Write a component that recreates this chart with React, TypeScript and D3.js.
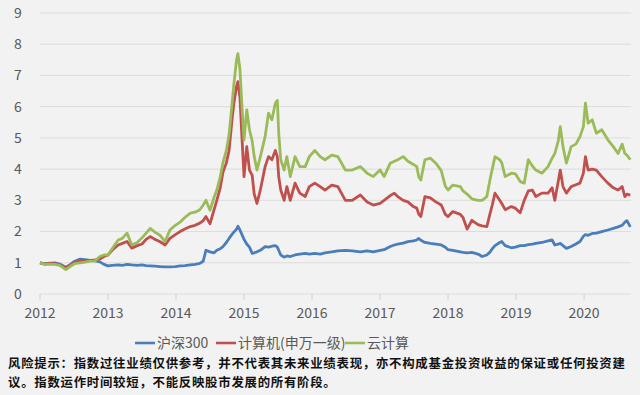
import React from "react";
import * as d3 from "d3";

// Time as fractional year
const years = [
  2012.0, 2012.07, 2012.15, 2012.22, 2012.29, 2012.38, 2012.44, 2012.51, 2012.59, 2012.66,
  2012.74, 2012.81, 2012.88, 2012.94, 2013.0, 2013.06, 2013.15, 2013.21, 2013.28, 2013.35,
  2013.43, 2013.5, 2013.56, 2013.62, 2013.69, 2013.76, 2013.84, 2013.91, 2013.99, 2014.06,
  2014.13, 2014.21, 2014.28, 2014.35, 2014.4, 2014.44, 2014.5, 2014.56, 2014.6, 2014.65,
  2014.69, 2014.74, 2014.78, 2014.82, 2014.85, 2014.89, 2014.91, 2014.94, 2014.97, 2015.0,
  2015.04, 2015.08, 2015.12, 2015.15, 2015.19, 2015.24, 2015.31, 2015.36, 2015.41, 2015.46,
  2015.49, 2015.51, 2015.54, 2015.59, 2015.63, 2015.68, 2015.75, 2015.82, 2015.9, 2015.96,
  2016.04, 2016.12, 2016.19, 2016.29, 2016.38, 2016.49, 2016.59, 2016.71, 2016.81, 2016.9,
  2017.0, 2017.06, 2017.15, 2017.21, 2017.26, 2017.34, 2017.41, 2017.49, 2017.54, 2017.57,
  2017.6, 2017.66, 2017.74, 2017.82, 2017.9, 2017.96, 2018.0, 2018.07, 2018.18, 2018.22,
  2018.28, 2018.35, 2018.44, 2018.5, 2018.57, 2018.62, 2018.65, 2018.69, 2018.76, 2018.79,
  2018.84, 2018.93, 2018.99, 2019.06, 2019.12, 2019.18, 2019.24, 2019.29, 2019.38, 2019.47,
  2019.53, 2019.57, 2019.62, 2019.65, 2019.69, 2019.74, 2019.81, 2019.88, 2019.94, 2019.99,
  2020.02, 2020.06, 2020.12, 2020.18, 2020.26, 2020.35, 2020.43, 2020.5, 2020.56, 2020.6,
  2020.63, 2020.68,
];

const hs300 = [
  1.0, 0.97, 0.99, 1.0, 0.96, 0.86, 0.93, 1.05, 1.12, 1.1,
  1.08, 1.06, 1.03, 0.95, 0.9, 0.92, 0.93, 0.92, 0.95, 0.93,
  0.92, 0.93, 0.91, 0.9, 0.89, 0.88, 0.87, 0.87, 0.88, 0.9,
  0.91, 0.93, 0.95, 0.98, 1.05, 1.4, 1.35, 1.32, 1.4, 1.45,
  1.52, 1.65, 1.78, 1.9, 1.98, 2.08, 2.17, 2.05, 1.9, 1.75,
  1.6, 1.5, 1.3, 1.32, 1.35, 1.4, 1.52, 1.5, 1.53, 1.55,
  1.5, 1.4, 1.25, 1.18, 1.22, 1.2, 1.25, 1.28, 1.3, 1.28,
  1.3, 1.28, 1.32, 1.35, 1.38, 1.4, 1.38, 1.35, 1.38, 1.35,
  1.4, 1.42, 1.52, 1.57, 1.6, 1.63, 1.68, 1.7, 1.73, 1.78,
  1.72, 1.65, 1.62, 1.6, 1.57, 1.5, 1.42, 1.4, 1.35, 1.33,
  1.32, 1.33, 1.28, 1.2, 1.25, 1.35, 1.45, 1.55, 1.65, 1.68,
  1.55, 1.48, 1.5, 1.55, 1.55, 1.58, 1.6, 1.62, 1.65, 1.7,
  1.73, 1.57, 1.6, 1.62, 1.55, 1.46, 1.52, 1.6, 1.68, 1.85,
  1.9, 1.88, 1.94, 1.95, 2.0, 2.05, 2.1, 2.15, 2.2, 2.3,
  2.35, 2.15,
];

const computer = [
  1.0, 0.96, 0.98, 0.97, 0.93, 0.84, 0.92, 1.0, 1.08, 1.07,
  1.08, 1.09, 1.12, 1.2, 1.25, 1.4, 1.57, 1.62, 1.68, 1.47,
  1.55, 1.6, 1.75, 1.84, 1.75, 1.68, 1.57, 1.78, 1.9, 2.0,
  2.08, 2.16, 2.2, 2.27, 2.35, 2.48, 2.25, 2.7, 3.0, 3.4,
  3.9, 4.2, 4.6, 5.5, 6.1, 6.65, 6.8, 6.3, 5.0, 3.76,
  4.72, 3.97, 3.8, 3.2, 2.9, 3.33, 4.08, 4.4, 4.3, 4.6,
  4.4, 3.76, 3.33, 3.0, 3.44, 3.0, 3.55, 3.23, 3.12, 3.44,
  3.55, 3.44, 3.33, 3.49, 3.44, 3.0, 3.0, 3.17, 2.95, 2.85,
  2.9, 3.0, 3.15, 3.23, 3.12, 3.0, 2.95, 2.8, 2.75, 2.55,
  2.48, 3.12, 3.08, 2.95, 2.85, 2.55, 2.48, 2.64, 2.55, 2.45,
  2.08, 2.36, 2.22, 2.18, 2.16, 2.6, 2.85, 3.23, 3.0, 2.9,
  2.7, 2.8, 2.75, 2.6, 3.0, 3.3, 3.33, 3.12, 3.23, 3.23,
  3.4, 3.0, 3.6, 3.97, 3.44, 3.23, 3.44, 3.5, 3.55, 3.87,
  4.4, 3.97, 4.0, 3.97, 3.76, 3.55, 3.4, 3.33, 3.44, 3.12,
  3.2, 3.17,
];

const cloud = [
  1.0, 0.95, 0.96, 0.95, 0.92, 0.78, 0.88, 0.97, 1.0, 1.02,
  1.05, 1.06, 1.2, 1.25, 1.25, 1.45, 1.73, 1.78, 1.95, 1.57,
  1.65, 1.8, 1.95, 2.1, 1.98, 1.89, 1.68, 2.05, 2.2, 2.3,
  2.45, 2.59, 2.62, 2.7, 2.85, 3.0, 2.68, 3.1, 3.33, 3.75,
  4.2, 4.6, 5.1, 6.0, 6.7, 7.5, 7.7, 7.2, 6.0, 4.94,
  5.9, 5.26, 4.9, 4.4, 3.97, 4.4, 5.04, 5.79, 5.58, 6.11,
  6.2, 5.15, 4.3, 3.97, 4.4, 3.76, 4.4, 4.08, 4.08, 4.4,
  4.6, 4.4, 4.3, 4.45, 4.4, 3.97, 3.97, 4.08, 3.87, 3.76,
  3.97, 3.76, 4.19, 4.25, 4.3, 4.4, 4.25, 4.15, 4.08, 3.75,
  3.65, 4.3, 4.35, 4.19, 3.95, 3.45, 3.33, 3.49, 3.44, 3.3,
  3.2, 3.05, 3.0, 3.0, 3.12, 3.7, 4.0, 4.4, 4.3, 4.2,
  3.76, 3.87, 3.85, 3.6, 3.55, 4.3, 4.1, 3.97, 3.87, 4.08,
  4.35, 4.5, 4.9, 5.36, 4.72, 4.19, 4.72, 4.8, 5.04, 5.36,
  6.11, 5.47, 5.58, 5.15, 5.26, 4.94, 4.72, 4.5, 4.8, 4.5,
  4.45, 4.3,
];

const yTicks = [0, 1, 2, 3, 4, 5, 6, 7, 8, 9];
const xTickLabels = ["2012", "2013", "2014", "2015", "2016", "2017", "2018", "2019", "2020"];

const seriesNames = ["沪深300", "计算机(申万一级)", "云计算"];
const seriesColors = ["#4a7ebb", "#c0504d", "#9bbb59"];
const seriesData = [hs300, computer, cloud];

const footerLines = [
  "风险提示：指数过往业绩仅供参考，并不代表其未来业绩表现，亦不构成基金投资收益的保证或任何投资建",
  "议。指数运作时间较短，不能反映股市发展的所有阶段。",
];

const W = 640;
const H = 395;
const FONT = "'Noto Sans CJK SC', 'Noto Sans', sans-serif";

export default function App() {
  const x = d3.scaleLinear().domain([2012, 2020.69]).range([40, 631]);
  const y = d3.scaleLinear().domain([0, 9]).range([294, 13]);

  const line = d3
    .line<number>()
    .x((_, i) => x(years[i]))
    .y((d) => y(d))
    .curve(d3.curveLinear);

  const legendX = [135, 216, 345];

  return (
    <div style={{ position: "absolute", left: 0, top: 0, width: W, height: H }}>
      <svg width={W} height={H} style={{ display: "block" }}>
        <rect x={0} y={0} width={W} height={H} fill="#f2f2f2" />
        {yTicks.map((t) => (
          <g key={t}>
            <line x1={40} x2={631} y1={y(t)} y2={y(t)} stroke="#dcdcdc" strokeWidth={1} />
            <text
              x={18}
              y={y(t)}
              dy="0.35em"
              textAnchor="middle"
              fontSize={14}
              fontFamily={FONT}
              fill="#595959"
            >
              {t}
            </text>
          </g>
        ))}
        {xTickLabels.map((lab) => {
          const xv = x(+lab);
          return (
            <g key={lab}>
              <line x1={xv} x2={xv} y1={294} y2={300} stroke="#d0d0d0" strokeWidth={1} />
              <text
                x={xv}
                y={318}
                textAnchor="middle"
                fontSize={14}
                fontFamily={FONT}
                fill="#595959"
              >
                {lab}
              </text>
            </g>
          );
        })}
        {seriesData.map((s, i) => (
          <path
            key={seriesNames[i]}
            d={line(s) || ""}
            fill="none"
            stroke={seriesColors[i]}
            strokeWidth={2.8}
            strokeLinejoin="round"
          />
        ))}
        {seriesNames.map((n, i) => (
          <g key={n}>
            <line
              x1={legendX[i]}
              x2={legendX[i] + 20}
              y1={343}
              y2={343}
              stroke={seriesColors[i]}
              strokeWidth={2.6}
            />
            <text
              x={legendX[i] + 22}
              y={343}
              dy="0.35em"
              fontSize={14}
              fontFamily={FONT}
              fill="#595959"
            >
              {n}
            </text>
          </g>
        ))}
        {footerLines.map((l, i) => (
          <text
            key={i}
            x={8}
            y={368 + i * 19}
            fontSize={12.4}
            letterSpacing={0.75}
            fontWeight="bold"
            fontFamily={FONT}
            fill="#111"
          >
            {l}
          </text>
        ))}
      </svg>
    </div>
  );
}
